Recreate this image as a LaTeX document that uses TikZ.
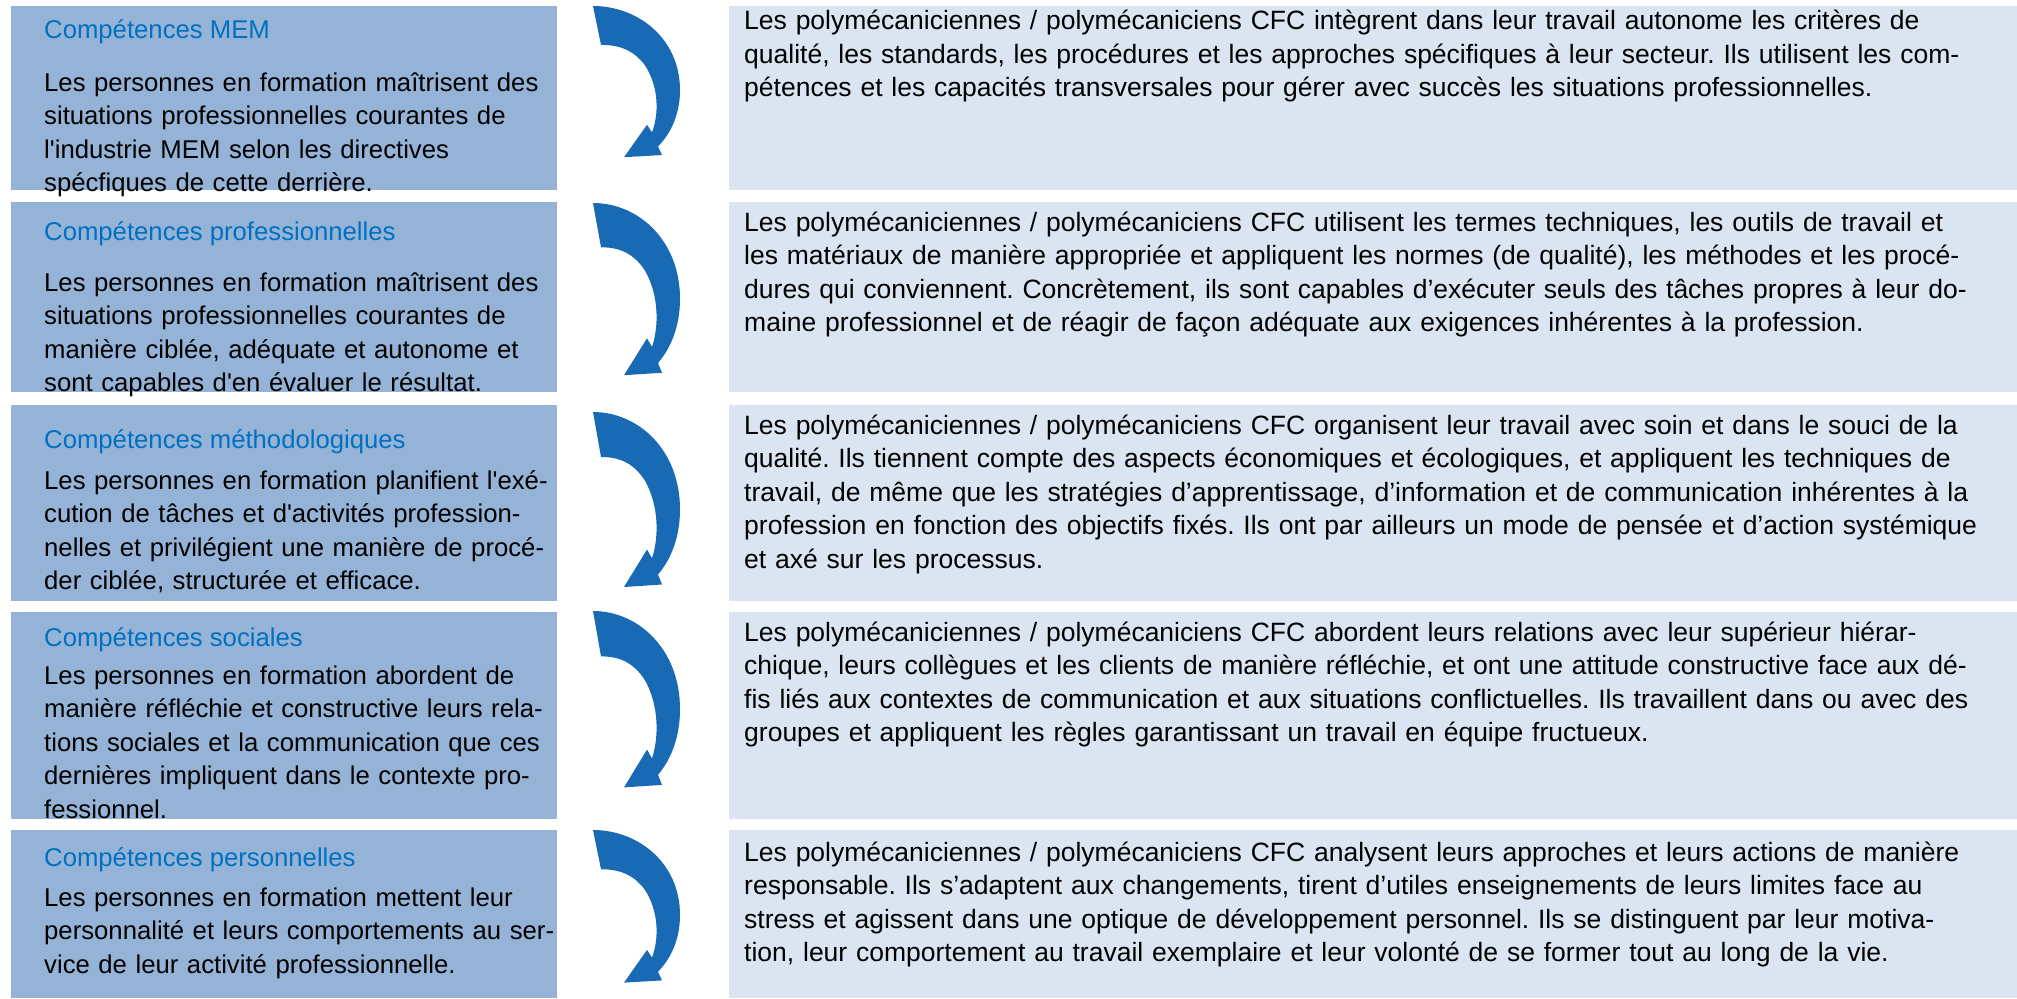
\documentclass[tikz,border=0pt]{standalone}
\usepackage{fontspec}
\setmainfont{Liberation Sans}
\frenchspacing
\definecolor{lboxc}{RGB}{149,179,215}
\definecolor{rboxc}{RGB}{219,229,241}
\definecolor{titlec}{RGB}{0,112,192}
\definecolor{arrowc}{RGB}{25,106,180}
\newcommand{\leftfont}{\fontsize{25.7}{33.5}\selectfont}
\newcommand{\rightfont}{\fontsize{26.5}{33.5}\selectfont}
\begin{document}
\begin{tikzpicture}[x=1pt,y=-1pt,
  leftbox/.style={fill=lboxc,draw=none,inner sep=0pt,outer sep=0pt,anchor=north west,minimum width=546pt},
  rightbox/.style={fill=rboxc,draw=none,inner sep=0pt,outer sep=0pt,anchor=north west,minimum width=1288pt},
  heading/.style={anchor=base west,inner sep=0pt,text=titlec,font=\leftfont},
  lefttext/.style={anchor=base west,inner sep=0pt,align=left,text width=600pt,font=\leftfont},
  righttext/.style={anchor=base west,inner sep=0pt,align=left,text width=1300pt,font=\rightfont},
  bendarrow/.pic={
    \fill[arrowc] (0,0) .. controls (45,0) and (87,30) .. (87,78)
      .. controls (87,100) and (78,118) .. (65,130) -- (69,138) -- (31,140)
      -- (54,110) -- (59,117) .. controls (66,100) and (66,75) .. (52,55)
      .. controls (40,40) and (25,36) .. (8,36) -- cycle;
  }]
\useasboundingbox (0,0) rectangle (2017,998);

% left column: competence boxes
\node[leftbox,minimum height=184pt] (L1) at (11,6) {};
\node[leftbox,minimum height=190pt] (L2) at (11,202) {};
\node[leftbox,minimum height=196pt] (L3) at (11,405) {};
\node[leftbox,minimum height=207pt] (L4) at (11,612) {};
\node[leftbox,minimum height=168pt] (L5) at (11,830) {};

% right column: descriptions
\node[rightbox,minimum height=184pt] (R1) at (729,6) {};
\node[rightbox,minimum height=190pt] (R2) at (729,202) {};
\node[rightbox,minimum height=196pt] (R3) at (729,405) {};
\node[rightbox,minimum height=207pt] (R4) at (729,612) {};
\node[rightbox,minimum height=168pt] (R5) at (729,830) {};

% curved arrows
\pic[yscale=1.08] at (593,6) {bendarrow};
\pic[yscale=1.23] at (593,203) {bendarrow};
\pic[yscale=1.25] at (593,412) {bendarrow};
\pic[yscale=1.26] at (593,611) {bendarrow};
\pic[yscale=1.09] at (593,830) {bendarrow};

% headings
\node[heading] (H1) at (44,39) {Compétences MEM};
\node[heading] (H2) at (44,240) {Compétences professionnelles};
\node[heading] (H3) at (44,448) {Compétences méthodologiques};
\node[heading] (H4) at (44,646) {Compétences sociales};
\node[heading] (H5) at (44,866) {Compétences personnelles};

% left texts
\node[lefttext] (T1) at (44,91) {Les personnes en formation maîtrisent des\\
situations professionnelles courantes de\\
l\textquotesingle industrie MEM selon les directives\\
spécfiques de cette derrière.};
\node[lefttext] (T2) at (44,291) {Les personnes en formation maîtrisent des\\
situations professionnelles courantes de\\
manière ciblée, adéquate et autonome et\\
sont capables d\textquotesingle en évaluer le résultat.};
\node[lefttext] (T3) at (44,489) {Les personnes en formation planifient l\textquotesingle exé-\\
cution de tâches et d\textquotesingle activités profession-\\
nelles et privilégient une manière de procé-\\
der ciblée, structurée et efficace.};
\node[lefttext] (T4) at (44,684) {Les personnes en formation abordent de\\
manière réfléchie et constructive leurs rela-\\
tions sociales et la communication que ces\\
dernières impliquent dans le contexte pro-\\
fessionnel.};
\node[lefttext] (T5) at (44,906) {Les personnes en formation mettent leur\\
personnalité et leurs comportements au ser-\\
vice de leur activité professionnelle.};

% right texts
\node[righttext] (D1) at (744,30) {Les polymécaniciennes / polymécaniciens CFC intègrent dans leur travail autonome les critères de\\
qualité, les standards, les procédures et les approches spécifiques à leur secteur. Ils utilisent les com-\\
pétences et les capacités transversales pour gérer avec succès les situations professionnelles.};
\node[righttext] (D2) at (744,231) {Les polymécaniciennes / polymécaniciens CFC utilisent les termes techniques, les outils de travail et\\
les matériaux de manière appropriée et appliquent les normes (de qualité), les méthodes et les procé-\\
dures qui conviennent. Concrètement, ils sont capables d’exécuter seuls des tâches propres à leur do-\\
maine professionnel et de réagir de façon adéquate aux exigences inhérentes à la profession.};
\node[righttext] (D3) at (744,434) {Les polymécaniciennes / polymécaniciens CFC organisent leur travail avec soin et dans le souci de la\\
qualité. Ils tiennent compte des aspects économiques et écologiques, et appliquent les techniques de\\
travail, de même que les stratégies d’apprentissage, d’information et de communication inhérentes à la\\
profession en fonction des objectifs fixés. Ils ont par ailleurs un mode de pensée et d’action systémique\\
et axé sur les processus.};
\node[righttext] (D4) at (744,641) {Les polymécaniciennes / polymécaniciens CFC abordent leurs relations avec leur supérieur hiérar-\\
chique, leurs collègues et les clients de manière réfléchie, et ont une attitude constructive face aux dé-\\
fis liés aux contextes de communication et aux situations conflictuelles. Ils travaillent dans ou avec des\\
groupes et appliquent les règles garantissant un travail en équipe fructueux.};
\node[righttext] (D5) at (744,861) {Les polymécaniciennes / polymécaniciens CFC analysent leurs approches et leurs actions de manière\\
responsable. Ils s’adaptent aux changements, tirent d’utiles enseignements de leurs limites face au\\
stress et agissent dans une optique de développement personnel. Ils se distinguent par leur motiva-\\
tion, leur comportement au travail exemplaire et leur volonté de se former tout au long de la vie.};
\end{tikzpicture}
\end{document}
